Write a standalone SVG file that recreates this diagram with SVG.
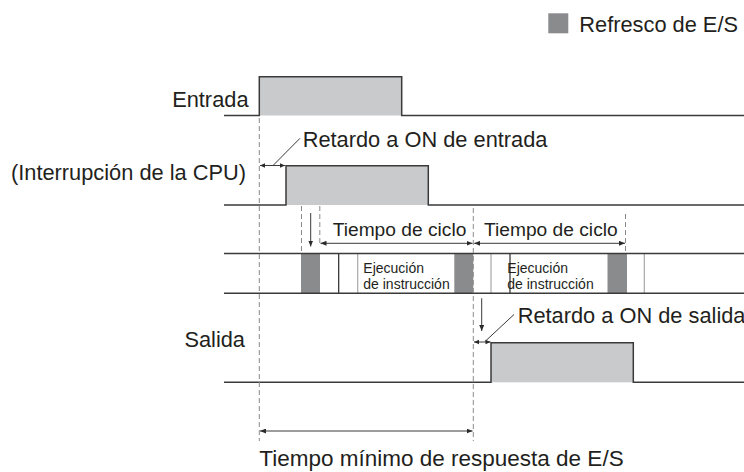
<svg xmlns="http://www.w3.org/2000/svg" width="744" height="472" viewBox="0 0 744 472">
<defs>
<style>
text{font-family:"Liberation Sans",Arial,Helvetica,sans-serif;fill:#231f20}
.lbl{font-size:21.8px}
.big{font-size:22.5px}
.cyc{font-size:19.2px}
.ex{font-size:14px}
.sig{fill:none;stroke:#3a3a3a;stroke-width:1.5}
.hi{fill:#c9cacc;stroke:none}
.io{fill:#8a8b8d;stroke:none}
.rowline{stroke:#3a3a3a;stroke-width:1.5}
.dash{stroke:#8a8a8a;stroke-width:1;stroke-dasharray:5 3;fill:none}
.dim{stroke:#3a3a3a;stroke-width:1;fill:none}
.thinD{stroke:#2a2a2a;stroke-width:1.2}
.thinL{stroke:#a8a8a8;stroke-width:1.2}
</style>
<marker id="ah" markerUnits="userSpaceOnUse" markerWidth="6" markerHeight="5" refX="6" refY="2.5" orient="auto-start-reverse">
<path d="M0,0 L6,2.5 L0,5 z" fill="#2a2a2a"/>
</marker>
</defs>
<rect width="744" height="472" fill="#ffffff"/>

<g id="legend">
<rect class="io" x="548.3" y="13.3" width="20" height="20"/>
<text class="lbl" x="579.3" y="31.7">Refresco de E/S</text>
</g>

<g id="entrada">
<rect class="hi" x="259.3" y="76.7" width="142.4" height="38.8"/>
<path class="sig" d="M224,115.5 H259.3 V76.7 H401.7 V115.5 H744"/>
<text class="lbl" x="248.5" y="106.7" text-anchor="end">Entrada</text>
</g>

<g id="cpu">
<rect class="hi" x="286" y="165.7" width="142.3" height="39.3"/>
<path class="sig" d="M224,205 H286 V165.7 H428.3 V205 H744"/>
<text class="lbl" x="246" y="180" text-anchor="end">(Interrupción de la CPU)</text>
</g>

<g id="ciclo">
<rect class="io" x="301" y="253.5" width="19" height="39.8"/>
<rect class="io" x="454.3" y="253.5" width="19" height="39.8"/>
<rect class="io" x="607.5" y="253.5" width="19.5" height="39.8"/>
<line class="thinD" x1="338.7" y1="253.5" x2="338.7" y2="293.3"/>
<line class="thinL" x1="357.7" y1="253.5" x2="357.7" y2="293.3"/>
<line class="thinL" x1="491" y1="253.5" x2="491" y2="293.3"/>
<line class="thinD" x1="510" y1="253.5" x2="510" y2="293.3"/>
<line class="thinL" x1="644.3" y1="253.5" x2="644.3" y2="293.3"/>
<line class="rowline" x1="224" y1="253.5" x2="744" y2="253.5"/>
<line class="rowline" x1="224" y1="293.3" x2="744" y2="293.3"/>
<text class="ex" x="363.3" y="272.7">Ejecución</text>
<text class="ex" x="363.3" y="289.3">de instrucción</text>
<text class="ex" x="507.3" y="272.7">Ejecución</text>
<text class="ex" x="507.3" y="289.3">de instrucción</text>
</g>

<g id="salida">
<rect class="hi" x="491" y="342.7" width="142.3" height="39.6"/>
<path class="sig" d="M224,382.3 H491 V342.7 H633.3 V382.3 H744"/>
<text class="lbl" x="245" y="346.5" text-anchor="end">Salida</text>
</g>

<g id="connectors">
<line class="dash" x1="259.3" y1="118" x2="259.3" y2="441"/>
<line class="dash" x1="301.5" y1="206" x2="301.5" y2="253"/>
<line class="dash" x1="319.8" y1="206" x2="319.8" y2="243"/>
<line class="dash" x1="473.3" y1="208" x2="473.3" y2="441"/>
<line class="dash" x1="625.5" y1="214" x2="625.5" y2="253"/>

<line class="dim" x1="260" y1="165.5" x2="285" y2="165.5"/>
<path d="M265,163.3 L260,165.5 L265,167.7 z M280,163.3 L285,165.5 L280,167.7 z" fill="#2a2a2a"/>
<line class="dim" x1="273.5" y1="165" x2="300" y2="138.3"/>

<line class="dim" x1="310.7" y1="213" x2="310.7" y2="246.5" marker-end="url(#ah)"/>
<line class="dim" x1="320.5" y1="243.3" x2="472.5" y2="243.3" marker-start="url(#ah)" marker-end="url(#ah)"/>
<line class="dim" x1="474.2" y1="243.3" x2="625" y2="243.3" marker-start="url(#ah)" marker-end="url(#ah)"/>

<line class="dim" x1="481.7" y1="298.3" x2="481.7" y2="331" marker-end="url(#ah)"/>
<line class="dim" x1="474" y1="342" x2="490.5" y2="342"/>
<path d="M479,339.8 L474,342 L479,344.2 z M485.5,339.8 L490.5,342 L485.5,344.2 z" fill="#2a2a2a"/>
<line class="dim" x1="485" y1="341.5" x2="514" y2="314.5"/>

<line class="dim" x1="260" y1="431" x2="472.5" y2="431" marker-start="url(#ah)" marker-end="url(#ah)"/>
</g>

<g id="labels">
<text class="lbl" x="302.7" y="147.3">Retardo a ON de entrada</text>
<text class="cyc" x="332.7" y="235.5">Tiempo de ciclo</text>
<text class="cyc" x="484" y="235.5">Tiempo de ciclo</text>
<text class="lbl" x="517.7" y="323.3">Retardo a ON de salida</text>
<text class="big" x="259.3" y="466">Tiempo mínimo de respuesta de E/S</text>
</g>
</svg>
